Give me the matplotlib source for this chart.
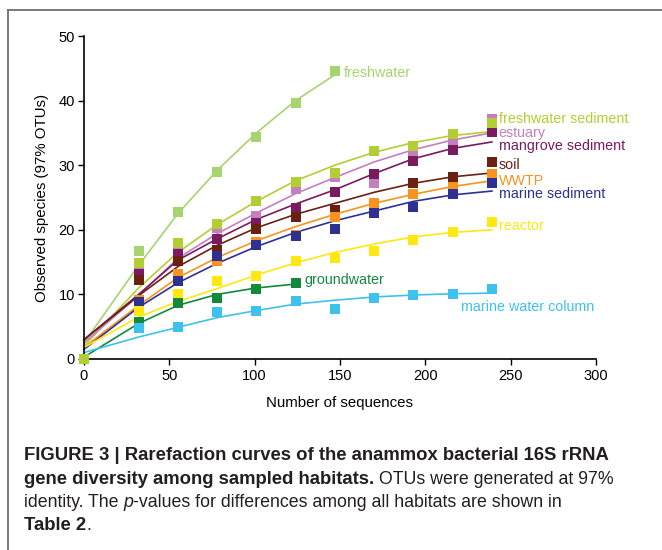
"""
Rarefaction curves of anammox 16S rRNA diversity by habitat (Figure 3 recreation).
"""
import matplotlib
matplotlib.use("Agg")
import matplotlib.pyplot as plt
from matplotlib import font_manager
from matplotlib.lines import Line2D
from matplotlib.transforms import IdentityTransform

# ---------------------------------------------------------------------------
# data
# ---------------------------------------------------------------------------
seqs = [0, 32, 55, 78, 101, 124, 147, 170, 193, 216, 239]

habitats = ["freshwater", "freshwater sediment", "estuary", "mangrove sediment",
            "soil", "WWTP", "marine sediment", "reactor", "groundwater",
            "marine water column"]

colors = ["#A6D46E", "#B3CE35", "#C57FC0", "#7A1A5F", "#6B2112",
          "#F7931E", "#2E3192", "#FFE812", "#13893C", "#3EC1EF"]

# observed points (squares)
freshwater_pts = [0, 16.7, 22.7, 29.0, 34.4, 39.7, 44.6]
fw_sediment_pts = [0, 14.9, 18.0, 20.9, 24.5, 27.4, 28.8, 32.2, 33.0, 34.9, 36.6]
estuary_pts = [0, 13.5, 16.6, 20.3, 22.1, 26.3, 28.2, 27.3, 32.2, 33.4, 37.1]
mangrove_pts = [0, 13.1, 16.2, 18.6, 21.1, 23.4, 25.9, 28.6, 30.6, 32.4, 35.1]
soil_pts = [0, 12.2, 15.2, 16.8, 20.1, 22.0, 23.1, 23.2, 27.3, 28.1, 30.5]
wwtp_pts = [0, 9.1, 13.2, 15.2, 18.1, 19.2, 22.0, 24.1, 25.5, 26.6, 28.7]
marine_sed_pts = [0, 8.8, 12.1, 15.9, 17.6, 19.0, 20.1, 22.6, 23.5, 25.6, 27.2]
reactor_pts = [0, 7.5, 10.0, 12.1, 12.8, 15.1, 15.7, 16.7, 18.4, 19.6, 21.2]
groundwater_pts = [0, 5.7, 8.7, 9.5, 10.8, 11.8]
marine_wc_pts = [0, 4.8, 4.9, 7.2, 7.4, 9.0, 7.8, 9.5, 9.9, 10.1, 10.8]

# fitted curves, read at the same sequence counts
freshwater_fit = [2.5, 14.5, 22.5, 29.2, 35.0, 40.0, 44.0]
fw_sediment_fit = [2.0, 11.0, 16.5, 20.8, 24.4, 27.6, 30.0, 32.0, 33.5, 34.6, 35.2]
estuary_fit = [2.5, 9.8, 15.6, 19.4, 22.6, 25.6, 28.1, 30.5, 32.4, 33.9, 35.0]
mangrove_fit = [3.0, 10.0, 15.3, 18.6, 21.6, 24.0, 26.2, 28.7, 31.0, 32.6, 33.6]
soil_fit = [3.0, 9.8, 14.3, 17.6, 20.3, 22.4, 24.1, 25.8, 27.2, 28.2, 28.8]
wwtp_fit = [1.8, 8.3, 12.6, 15.7, 18.3, 20.5, 22.4, 24.1, 25.5, 26.7, 27.6]
marine_sed_fit = [1.5, 8.0, 11.8, 14.8, 17.4, 19.6, 21.4, 22.9, 24.4, 25.4, 26.0]
reactor_fit = [1.8, 6.5, 8.9, 10.9, 13.0, 14.9, 16.5, 17.8, 18.9, 19.6, 20.0]
groundwater_fit = [0.3, 5.5, 8.3, 10.0, 11.0, 11.6]
marine_wc_fit = [1.0, 3.4, 4.9, 6.4, 7.5, 8.5, 9.1, 9.6, 9.9, 10.1, 10.2]

points = [freshwater_pts, fw_sediment_pts, estuary_pts, mangrove_pts, soil_pts,
          wwtp_pts, marine_sed_pts, reactor_pts, groundwater_pts, marine_wc_pts]
fits = [freshwater_fit, fw_sediment_fit, estuary_fit, mangrove_fit, soil_fit,
        wwtp_fit, marine_sed_fit, reactor_fit, groundwater_fit, marine_wc_fit]

# label anchor (x, y) in data units
label_pos = [(152, 44.3), (243, 37.1), (243, 35.0), (243, 33.0), (243, 30.0),
             (243, 27.6), (243, 25.5), (243, 20.6), (129, 12.2), (221, 8.0)]

xticks = [0, 50, 100, 150, 200, 250, 300]
yticks = [0, 10, 20, 30, 40, 50]


def pick_font(names):
    have = {f.name for f in font_manager.fontManager.ttflist}
    for n in names:
        if n in have:
            return n
    return "DejaVu Sans"


CHART_FONT = pick_font(["Liberation Sans", "Arial"])
CAPTION_FONT = pick_font(["Liberation Sans Narrow", "Liberation Sans"])
plt.rcParams["font.family"] = [CHART_FONT, "DejaVu Sans"]


def draw_caption(fig, lines, x0, sizes):
    renderer = fig.canvas.get_renderer()
    for baseline, runs in lines:
        x = x0
        for text, weight, style in runs:
            t = fig.text(x, 550 - baseline, text, transform=IdentityTransform(),
                         fontsize=sizes[weight], fontweight=weight, fontstyle=style,
                         family=[CAPTION_FONT, "DejaVu Sans"], va="baseline",
                         color="#231F20")
            x = t.get_window_extent(renderer).x1


fig = plt.figure(figsize=(6.62, 5.5), dpi=100)
ax = fig.add_axes([84 / 662, 1 - 359 / 550, 512 / 662, 323 / 550])

for i, (name, col, pts, fit) in enumerate(zip(habitats, colors, points, fits)):
    ax.plot(seqs[:len(fit)], fit, color=col, lw=1.2, zorder=2, clip_on=False)
    # freshwater sediment squares sit on top in the original (e.g. at the origin)
    z = 4 if name == "freshwater sediment" else 3
    ax.plot(seqs[:len(pts)], pts, ls="none", marker="s", ms=6.5, mew=0,
            color=col, zorder=z, clip_on=False)

for name, col, (lx, ly) in zip(habitats, colors, label_pos):
    ax.text(lx, ly, name, color=col, fontsize=10.3, va="center", ha="left")

ax.set_xlim(0, 300)
ax.set_ylim(0, 50)
ax.set_xticks(xticks)
ax.set_yticks(yticks)
for s in ["top", "right"]:
    ax.spines[s].set_visible(False)
for s in ["left", "bottom"]:
    ax.spines[s].set_linewidth(1.2)
ax.tick_params(direction="out", length=4.5, width=1.0, labelsize=10.5, pad=2)
ax.tick_params(axis="x", pad=3)
ax.set_xlabel("Number of sequences", fontsize=10.8, labelpad=9)
ax.set_ylabel("Observed species (97% OTUs)", fontsize=10.8, labelpad=7)

# panel frame (left and top edges only)
fig.add_artist(Line2D([7.5 / 662, 7.5 / 662], [0, 1 - 10 / 550],
                      color="#6E6E6E", lw=1.3))
fig.add_artist(Line2D([7.5 / 662, 1], [1 - 10 / 550, 1 - 10 / 550],
                      color="#6E6E6E", lw=1.3))

caption = [
    (460, [("FIGURE 3 | Rarefaction curves of the anammox bacterial 16S rRNA",
            "bold", "normal")]),
    (484, [("gene diversity among sampled habitats.", "bold", "normal"),
           (" OTUs were generated at 97%", "normal", "normal")]),
    (507, [("identity. The ", "normal", "normal"),
           ("p", "normal", "italic"),
           ("-values for differences among all habitats are shown in",
            "normal", "normal")]),
    (530, [("Table 2", "bold", "normal"), (".", "normal", "normal")]),
]
draw_caption(fig, caption, 24, {"bold": 13.3, "normal": 12.8})

fig.savefig("out.png", dpi=100)
